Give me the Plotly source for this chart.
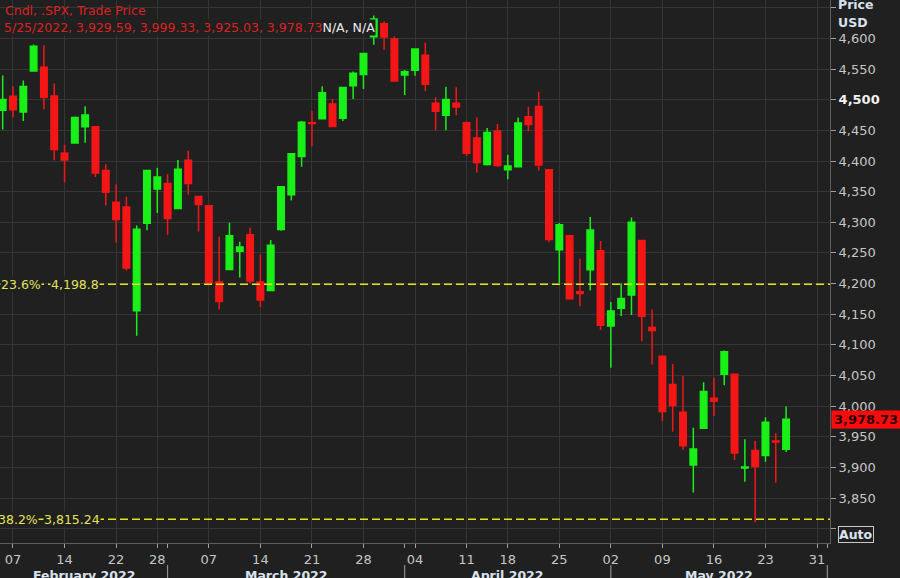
import plotly.graph_objects as go
import pandas as pd

# ---------------- data ----------------
dates = ["2022-02-04","2022-02-07","2022-02-08","2022-02-09","2022-02-10","2022-02-11",
         "2022-02-14","2022-02-15","2022-02-16","2022-02-17","2022-02-18",
         "2022-02-22","2022-02-23","2022-02-24","2022-02-25","2022-02-28",
         "2022-03-01","2022-03-02","2022-03-03","2022-03-04",
         "2022-03-07","2022-03-08","2022-03-09","2022-03-10","2022-03-11",
         "2022-03-14","2022-03-15","2022-03-16","2022-03-17","2022-03-18",
         "2022-03-21","2022-03-22","2022-03-23","2022-03-24","2022-03-25",
         "2022-03-28","2022-03-29","2022-03-30","2022-03-31","2022-04-01",
         "2022-04-04","2022-04-05","2022-04-06","2022-04-07","2022-04-08",
         "2022-04-11","2022-04-12","2022-04-13","2022-04-14",
         "2022-04-18","2022-04-19","2022-04-20","2022-04-21","2022-04-22",
         "2022-04-25","2022-04-26","2022-04-27","2022-04-28","2022-04-29",
         "2022-05-02","2022-05-03","2022-05-04","2022-05-05","2022-05-06",
         "2022-05-09","2022-05-10","2022-05-11","2022-05-12","2022-05-13",
         "2022-05-16","2022-05-17","2022-05-18","2022-05-19","2022-05-20",
         "2022-05-23","2022-05-24","2022-05-25"]
opens = [4482.79,4505.75,4480.02,4547.00,4553.24,4506.27,
         4412.61,4429.28,4455.75,4456.06,4384.57,
         4332.74,4324.93,4155.77,4298.38,4354.17,
         4363.14,4322.56,4401.31,4342.12,
         4327.01,4202.66,4223.10,4252.55,4279.50,
         4202.75,4188.82,4288.14,4345.11,4407.34,
         4462.40,4469.10,4493.10,4469.98,4522.91,
         4541.09,4602.86,4624.20,4599.02,4540.32,
         4547.97,4572.45,4494.17,4474.65,4494.15,
         4462.64,4437.59,4394.30,4449.12,
         4385.63,4390.63,4472.26,4489.17,4385.83,
         4255.34,4278.14,4186.52,4222.58,4253.75,
         4130.61,4159.78,4181.18,4270.43,4128.17,
         4081.27,4035.18,3990.08,3903.95,3963.90,
         4013.02,4052.00,4051.98,3899.00,3927.76,
         3919.42,3942.94,3929.59]
highs = [4539.66,4521.86,4531.32,4590.03,4588.92,4526.33,
         4426.22,4472.77,4489.55,4456.06,4394.60,
         4362.12,4341.51,4294.73,4385.34,4388.84,
         4378.45,4401.48,4416.78,4342.12,
         4327.01,4276.94,4299.40,4268.28,4291.01,
         4247.57,4271.05,4357.86,4412.67,4465.40,
         4481.75,4522.00,4501.07,4520.58,4546.03,
         4575.65,4637.30,4627.77,4603.07,4548.70,
         4583.50,4593.45,4503.94,4521.16,4520.41,
         4464.35,4471.00,4453.92,4460.46,
         4410.31,4471.03,4488.29,4512.94,4385.83,
         4299.02,4278.14,4240.71,4308.45,4269.68,
         4169.81,4200.10,4307.66,4270.43,4157.69,
         4081.27,4068.82,4049.09,3964.80,4038.88,
         4046.46,4090.72,4051.98,3945.96,3943.42,
         3981.88,3955.68,3999.33]
lows = [4451.50,4471.47,4465.40,4547.00,4484.31,4401.41,
        4364.84,4429.28,4429.68,4373.81,4327.22,
        4267.11,4221.51,4114.65,4286.83,4315.12,
        4279.54,4322.56,4345.56,4284.98,
        4199.85,4157.87,4223.10,4209.80,4200.49,
        4161.72,4187.90,4286.15,4335.65,4390.57,
        4424.30,4469.10,4455.81,4465.17,4501.07,
        4517.69,4589.82,4581.32,4530.41,4507.57,
        4539.21,4514.17,4450.04,4450.30,4474.60,
        4408.38,4381.34,4392.70,4390.77,
        4370.30,4390.63,4448.76,4384.47,4267.62,
        4200.82,4175.04,4162.90,4188.63,4124.28,
        4062.51,4147.08,4148.91,4106.01,4067.91,
        3975.48,3958.17,3928.82,3858.87,3963.90,
        3983.99,4033.93,3911.91,3876.58,3810.32,
        3909.04,3875.13,3925.03]
closes = [4500.53,4483.87,4521.54,4587.18,4504.08,4418.64,
          4401.67,4471.07,4475.01,4380.26,4348.87,
          4304.76,4225.50,4288.70,4384.65,4373.94,
          4306.26,4386.54,4363.49,4328.87,
          4201.09,4170.70,4277.88,4259.52,4204.31,
          4173.11,4262.45,4357.86,4411.67,4463.12,
          4461.18,4511.61,4456.24,4520.16,4543.06,
          4575.52,4631.60,4602.45,4530.41,4545.86,
          4582.64,4525.12,4481.15,4500.21,4488.28,
          4412.53,4397.45,4446.59,4392.59,
          4391.69,4462.21,4459.45,4393.66,4271.78,
          4296.12,4175.20,4183.96,4287.50,4131.93,
          4155.38,4175.48,4300.17,4146.87,4123.34,
          3991.24,4001.05,3935.18,3930.08,4023.89,
          4008.01,4088.85,3923.68,3900.79,3901.36,
          3973.75,3941.48,3978.73]

holidays = ["2022-02-21", "2022-04-15", "2022-05-30"]
week_ticks = ["2022-02-07","2022-02-14","2022-02-22","2022-02-28","2022-03-07","2022-03-14",
              "2022-03-21","2022-03-28","2022-04-04","2022-04-11","2022-04-18","2022-04-25",
              "2022-05-02","2022-05-09","2022-05-16","2022-05-23","2022-05-31"]
month_starts = ["2022-03-01","2022-04-01","2022-05-02","2022-06-01"]
month_labels = ["February 2022","March 2022","April 2022","May 2022"]
price_ticks = list(range(3800, 4651, 50))
fib_levels = [4198.8, 3815.24]
fib_pcts = ["23.6%", "38.2%"]
fib_texts = ["4,198.8", "3,815.24"]
header1 = "Cndl, .SPX, Trade Price"

# ---------------- calendar (trading-day axis) ----------------
cal = pd.bdate_range("2022-02-04", "2022-06-01", freq="C", holidays=holidays)
pos = {d.strftime("%Y-%m-%d"): i for i, d in enumerate(cal)}
x = [pos[d] for d in dates]
week_idx = [pos[d] for d in week_ticks]
week_lbl = [d[-2:] for d in week_ticks]
month_idx = [pos[d] for d in month_starts]

BG = "#202020"
GRID = "#353535"
GREEN = "#18f018"
RED = "#f41616"
YEL = "#e4e41e"
TXT = "#c6c6c6"
FONT = "DejaVu Sans"

fig = go.Figure(go.Candlestick(
    x=x, open=opens, high=highs, low=lows, close=closes,
    increasing=dict(line=dict(color=GREEN, width=1.5), fillcolor=GREEN),
    decreasing=dict(line=dict(color=RED, width=1.5), fillcolor=RED),
    hoverinfo="skip", showlegend=False,
))

xr = [-0.26, 80.26]
fig.update_layout(
    width=900, height=578,
    margin=dict(l=0, r=70, t=0, b=35),
    paper_bgcolor=BG, plot_bgcolor=BG,
    showlegend=False, hovermode=False,
    boxgap=0.1, boxgroupgap=0.3,
    font=dict(family=FONT, size=13, color=TXT),
)
fig.update_xaxes(
    range=xr, tickmode="array", tickvals=week_idx, ticktext=week_lbl,
    showgrid=True, gridcolor=GRID, gridwidth=1, zeroline=False,
    showline=True, linecolor="#5c5c5c", linewidth=1,
    ticks="outside", ticklen=4, tickcolor="#a0a0a0",
    tickfont=dict(family=FONT, size=13, color=TXT),
    rangeslider_visible=False,
    minor=dict(tickmode="array", tickvals=month_idx, ticks="outside", ticklen=4,
               tickcolor="#a0a0a0", showgrid=False),
)

ytext = []
for v in price_ticks:
    if v in (3800, 4650):
        ytext.append("")
    elif v == 4500:
        ytext.append("<b><span style='color:#f2f2f2'>4,500</span></b>")
    else:
        ytext.append(f"{v:,}")
fig.update_yaxes(
    side="right", range=[3776.6, 4662.8], tickmode="array",
    tickvals=price_ticks, ticktext=ytext,
    showgrid=True, gridcolor=GRID, gridwidth=1, zeroline=False,
    showline=True, linecolor="#5c5c5c", linewidth=1,
    ticks="outside", ticklen=5, tickcolor="#a0a0a0",
    tickfont=dict(family=FONT, size=13, color=TXT),
)

shapes = []
annos = []
# Fibonacci levels
for lvl, pct, txt, s1, s2 in zip(fib_levels, fib_pcts, fib_texts, [0, -3], [50, 43]):
    shapes.append(dict(type="line", xref="paper", x0=0, x1=1, yref="y", y0=lvl, y1=lvl,
                       line=dict(color=YEL, width=1.5, dash="8px,4px"), layer="above"))
    annos.append(dict(xref="paper", x=0, xshift=s1, yref="y", y=lvl, text=pct,
                      xanchor="left", yanchor="middle", showarrow=False, bgcolor=BG,
                      borderpad=0, font=dict(family=FONT, size=12.5, color="#e2e25a")))
    annos.append(dict(xref="paper", x=0, xshift=s2, yref="y", y=lvl, text=txt,
                      xanchor="left", yanchor="middle", showarrow=False, bgcolor=BG,
                      borderpad=0, font=dict(family=FONT, size=12.5, color="#e2e25a")))

# month separators and labels
for m in month_idx:
    shapes.append(dict(type="line", xref="x", x0=m, x1=m, yref="paper",
                       y0=-22 / 543, y1=-36 / 543, line=dict(color="#a0a0a0", width=1)))
bounds = [xr[0]] + month_idx
for i, lab in enumerate(month_labels):
    cx = (bounds[i] + bounds[i + 1]) / 2
    annos.append(dict(xref="x", x=cx, yref="paper", y=0, yshift=-32, text=f"<b>{lab}</b>",
                      showarrow=False, xanchor="center", yanchor="middle",
                      font=dict(family=FONT, size=12.5, color="#d8e0ec")))

# header
annos.append(dict(xref="paper", x=0, xshift=3, yref="paper", y=1, yshift=-10,
                  text=header1, showarrow=False, xanchor="left", yanchor="middle",
                  font=dict(family=FONT, size=12.5, color="#dc2020")))
last_day = pd.Timestamp(dates[-1])
line2 = (f"{last_day.month}/{last_day.day}/{last_day.year}, "
         f"{opens[-1]:,.2f}, {highs[-1]:,.2f}, {lows[-1]:,.2f}, {closes[-1]:,.2f}"
         "<span style='color:#ececec'>N/A, N/A</span>")
annos.append(dict(xref="paper", x=0, xshift=3, yref="paper", y=1, yshift=-27,
                  text=line2, showarrow=False, xanchor="left", yanchor="middle",
                  bgcolor=BG, borderpad=0,
                  font=dict(family=FONT, size=12.5, color="#dc2020")))

# right-side labels
annos.append(dict(xref="paper", x=1, xshift=6, yref="paper", y=1, yshift=-4,
                  text="<b>Price</b>", showarrow=False, xanchor="left", yanchor="middle",
                  font=dict(family=FONT, size=12.5, color="#d8e0ec")))
annos.append(dict(xref="paper", x=1, xshift=6, yref="paper", y=1, yshift=-22,
                  text="<b>USD</b>", showarrow=False, xanchor="left", yanchor="middle",
                  font=dict(family=FONT, size=12.5, color="#d8e0ec")))
annos.append(dict(xref="paper", x=1, xshift=1, yref="y", y=closes[-1],
                  text=f"<b>{closes[-1]:,.2f}</b>", showarrow=False,
                  xanchor="left", yanchor="middle", bgcolor="#ff0a0a", borderpad=1,
                  width=66, height=15, align="center",
                  font=dict(family=FONT, size=13, color="#2a0000")))
annos.append(dict(xref="paper", x=1, xshift=8, yref="paper", y=0, yshift=9,
                  text="<b>Auto</b>", showarrow=False, xanchor="left", yanchor="middle",
                  bordercolor="#c8c8c8", borderwidth=1, borderpad=0, bgcolor=BG,
                  font=dict(family=FONT, size=12.5, color="#dce4f0")))

fig.update_layout(shapes=shapes, annotations=annos)
fig.write_html("out.html",
               config={"displayModeBar": False, "staticPlot": True},
               post_script="document.body.style.margin='0';document.body.style.background='#202020';")
